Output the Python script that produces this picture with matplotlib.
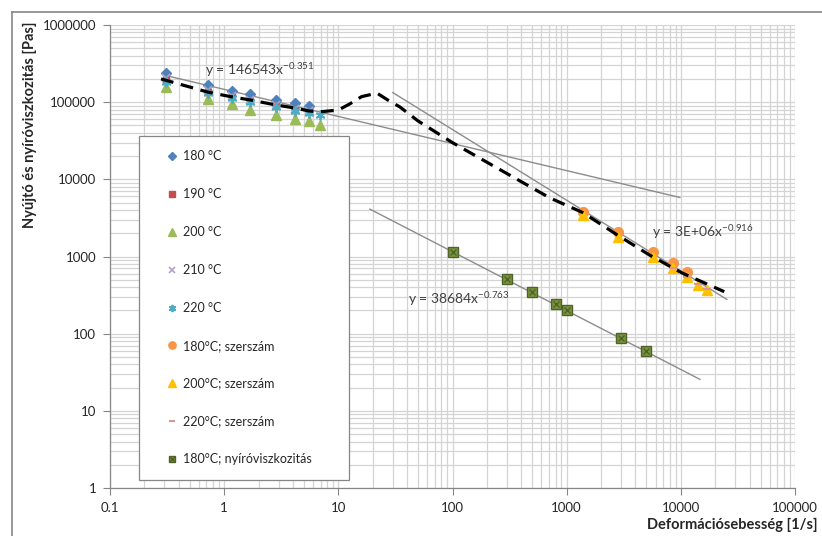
import numpy as np
import matplotlib
matplotlib.use('Agg')
import matplotlib.pyplot as plt
from matplotlib.lines import Line2D
from matplotlib.ticker import FixedLocator, FixedFormatter, LogLocator, NullFormatter

plt.rcParams['font.family'] = ['Lato', 'DejaVu Sans']
plt.rcParams['mathtext.default'] = 'regular'

# melt tests (nyújtó viszkozitás)
rate_melt = [0.31, 0.72, 1.17, 1.68, 2.84, 4.17, 5.5]
rate_melt_ext = [0.31, 0.72, 1.17, 1.68, 2.84, 4.17, 5.5, 6.9]
visc_180 = [239000, 167000, 140000, 128000, 107000, 97700, 89300]
visc_190 = [194000, 135000, 117000, 104000, 89000, 79000, 75000]
visc_200 = [157000, 110000, 95000, 79000, 68000, 60500, 57000, 50700]
visc_210 = [205000, 142000, 122000, 108000, 92000, 82000, 77000]
visc_220 = [185000, 130000, 112000, 100000, 86000, 76000, 72000, 68000]

# die measurements (szerszám)
rate_die_180 = [1400, 2800, 5700, 8500, 11300]
visc_die_180 = [3800, 2080, 1150, 830, 630]
rate_die_200 = [1390, 2800, 5700, 8500, 11300, 14100, 16900]
visc_die_200 = [3460, 1800, 990, 711, 544, 429, 369]
rate_die_220 = [8500, 11300, 14100, 16900]
visc_die_220 = [700, 550, 435, 375]

# shear viscosity
rate_shear = [100, 300, 500, 800, 1000, 3000, 5000]
visc_shear = [1150, 510, 345, 240, 205, 88, 59]

# dashed master curve
master_rate = [0.28, 0.72, 1.17, 1.68, 2.84, 4.17, 5.5, 6.9, 10, 12.6, 16, 21.8,
               27, 34.6, 50, 101, 713, 1390, 2780, 5290, 10200, 24000]
master_visc = [200000, 135000, 117000, 107000, 92000, 84000, 77000, 75000, 79000,
               95000, 118000, 131000, 107000, 86700, 57000, 29600, 5740, 3700,
               1900, 1050, 614, 350]

# power-law trendlines
fit_coef = [146543, 3e6, 38684]
fit_exp = [-0.351, -0.916, -0.763]
fit_start = [0.3, 30, 18.9]
fit_end = [9800, 25300, 14700]
fit_labels = ['y = 146543x$^{-0.351}$', 'y = 3E+06x$^{-0.916}$', 'y = 38684x$^{-0.763}$']
fit_label_pos = [(0.68, 261000), (5570, 2080), (40.6, 283)]

x_ticks = [0.1, 1, 10, 100, 1000, 10000, 100000]
x_ticklabels = ['0.1', '1', '10', '100', '1000', '10000', '100000']
y_ticks = [1, 10, 100, 1000, 10000, 100000, 1000000]
y_ticklabels = ['1', '10', '100', '1000', '10000', '100000', '1000000']


def main():
    fig = plt.figure(figsize=(8.22, 5.36), dpi=100)
    ax = fig.add_axes([110 / 822, 1 - 488 / 536, 685 / 822, 463 / 536])
    ax.set_xscale('log')
    ax.set_yscale('log')
    ax.set_xlim(0.1, 100000)
    ax.set_ylim(1, 1000000)

    # trendlines
    for c, e, a, b, lab, pos in zip(fit_coef, fit_exp, fit_start, fit_end, fit_labels, fit_label_pos):
        xs = np.array([a, b])
        ax.plot(xs, c * xs ** e, color='#8c8c8c', lw=1.0, zorder=2)
        ax.text(pos[0], pos[1], lab, fontsize=10, color='#404040', va='center', ha='left', zorder=6)

    ms = 6
    h180, = ax.plot(rate_melt, visc_180, 'D', color='#4f81bd', ms=ms - 1, ls='none', zorder=3)
    h190, = ax.plot(rate_melt, visc_190, 's', color='#c0504d', ms=ms - 1, ls='none', zorder=3)
    h200, = ax.plot(rate_melt_ext, visc_200, '^', color='#9bbb59', ms=ms + 1, ls='none', zorder=3)
    h210, = ax.plot(rate_melt, visc_210, 'x', color='#b3a2c7', ms=ms, mew=1.2, ls='none', zorder=3)
    h220, = ax.plot(rate_melt_ext, visc_220, marker=(6, 2, 0), color='#4bacc6', ms=ms + 1, mew=1.3,
                    ls='none', zorder=3)
    hd180, = ax.plot(rate_die_180, visc_die_180, 'o', color='#f79646', ms=ms + 1, ls='none', zorder=3)
    hd200, = ax.plot(rate_die_200, visc_die_200, '^', color='#ffc000', ms=ms + 1, ls='none', zorder=3)
    hd220, = ax.plot(rate_die_220, visc_die_220, '_', color='#d99694', ms=ms, mew=1.5, ls='none', zorder=3)
    hs1, = ax.plot(rate_shear, visc_shear, 's', color='#77933c', mec='#4f6228', ms=ms + 0.5, ls='none', zorder=3)
    hs2, = ax.plot(rate_shear, visc_shear, 'x', color='#4f6228', ms=ms - 1, mew=1.0, ls='none', zorder=4)

    ax.plot(master_rate, master_visc, color='black', lw=2.3, dashes=(4, 2.4), zorder=5)

    # grid
    ax.xaxis.set_major_locator(FixedLocator(x_ticks))
    ax.xaxis.set_major_formatter(FixedFormatter(x_ticklabels))
    ax.yaxis.set_major_locator(FixedLocator(y_ticks))
    ax.yaxis.set_major_formatter(FixedFormatter(y_ticklabels))
    ax.xaxis.set_minor_locator(LogLocator(base=10, subs=np.arange(2, 10), numticks=20))
    ax.yaxis.set_minor_locator(LogLocator(base=10, subs=np.arange(2, 10), numticks=20))
    ax.xaxis.set_minor_formatter(NullFormatter())
    ax.yaxis.set_minor_formatter(NullFormatter())
    ax.grid(True, which='both', color='#d4d4d4', lw=0.9, zorder=0)
    ax.set_axisbelow(True)
    ax.tick_params(which='minor', length=0)
    ax.tick_params(which='major', length=5, color='#868686', labelsize=9.5, labelcolor='#262626', pad=5)
    for s in ['top', 'right']:
        ax.spines[s].set_visible(False)
    for s in ['left', 'bottom']:
        ax.spines[s].set_color('#868686')
        ax.spines[s].set_linewidth(0.9)

    leg = fig.legend([h180, h190, h200, h210, h220, hd180, hd200, hd220, (hs1, hs2)],
                     ['180 °C', '190 °C', '200 °C', '210 °C', '220 °C', '180°C; szerszám',
                      '200°C; szerszám', '220°C; szerszám', '180°C; nyíróviszkozitás'],
                     loc='upper left', bbox_to_anchor=(139 / 822, 0.1, 210 / 822, 1 - 136 / 536 - 0.1),
                     bbox_transform=fig.transFigure, mode='expand', borderaxespad=0,
                     fontsize=9, frameon=True, fancybox=False, framealpha=1, edgecolor='#868686',
                     handlelength=3.0, handletextpad=-0.64, borderpad=1.15, labelspacing=2.07,
                     markerscale=0.75)
    leg.get_frame().set_linewidth(0.9)
    for t in leg.get_texts():
        t.set_color('#262626')

    fig.text(30 / 822, 1 - 22 / 536, 'Nyújtó és nyíróviszkozitás [Pas]', rotation=90, ha='center', va='top',
             fontsize=10.5, fontweight='bold', color='#262626')
    fig.text(818 / 822, 1 - 525 / 536, 'Deformációsebesség [1/s]', ha='right', va='center',
             fontsize=10.5, fontweight='bold', color='#262626')

    # chart area frame (only left and top edges visible)
    fx, fy = 12 / 822, 1 - 12 / 536
    fig.lines.append(Line2D([fx, fx], [0, fy], transform=fig.transFigure, color='#868686', lw=1.2))
    fig.lines.append(Line2D([fx, 1], [fy, fy], transform=fig.transFigure, color='#868686', lw=1.2))

    fig.savefig('out.png', dpi=100)


if __name__ == '__main__':
    main()
